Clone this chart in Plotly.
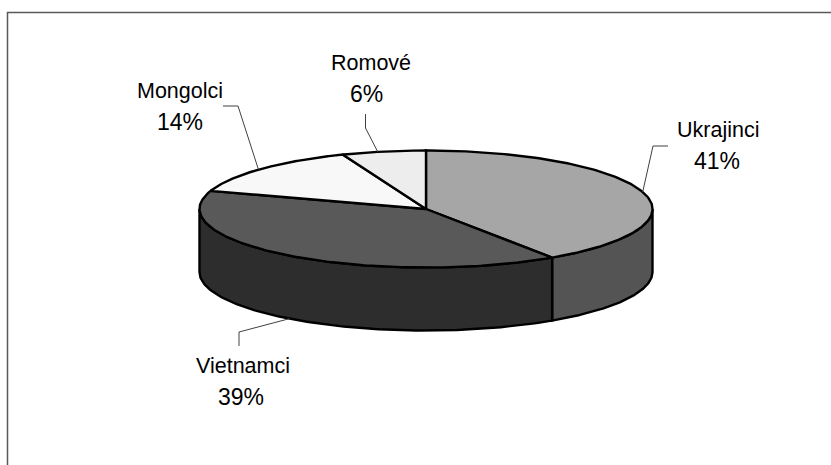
import numpy as np
import plotly.graph_objects as go

categories = ["Ukrajinci", "Vietnamci", "Mongolci", "Romové"]
values = [40.6, 39.4, 14, 6]
top_colors = ["#A6A6A6", "#595959", "#F8F8F8", "#EDEDED"]
side_colors = ["#545454", "#2D2D2D", "#F8F8F8", "#EDEDED"]

# pie projection in page pixels
CX, CY, RX, RY, DEPTH = 426, 209, 226.5, 58.5, 63
W, H = 831, 465


def px(a):
    return CX + RX * np.sin(np.radians(a))


def py(a):
    return CY - RY * np.cos(np.radians(a))


fractions = np.array(values) / sum(values) * 360
ends = np.cumsum(fractions)
starts = ends - fractions
mids = (starts + ends) / 2

fig = go.Figure()


def poly(x, y, color):
    fig.add_trace(go.Scatter(
        x=x, y=y, mode="lines", fill="toself", fillcolor=color,
        line=dict(color="#000000", width=2.4), hoverinfo="skip", showlegend=False))


# side walls (only the front half of the rim is visible)
for s, e, c in zip(starts, ends, side_colors):
    lo, hi = max(s, 90), min(e, 270)
    if hi > lo:
        t = np.linspace(lo, hi, 120)
        x = np.r_[px(t), px(t[::-1]), px(t[0])]
        y = np.r_[py(t), py(t[::-1]) + DEPTH, py(t[0])]
        poly(x, y, c)

# top faces
for s, e, c in zip(starts, ends, top_colors):
    t = np.linspace(s, e, 160)
    poly(np.r_[CX, px(t), CX], np.r_[CY, py(t), CY], c)

# leader lines: label-side start, elbow, then the slice's rim point
elbows = {
    "Ukrajinci": [(668, 146), (653, 146)],
    "Vietnamci": [(239, 346), (239, 332)],
    "Mongolci": [(223, 106), (238, 106)],
    "Romové": [(365.5, 114), (365.5, 128)],
}
rim_offset_deg = {"Ukrajinci": 0, "Vietnamci": 0, "Mongolci": -0.9, "Romové": -1.5}
for name, m in zip(categories, mids):
    pts = elbows[name]
    a = m + rim_offset_deg[name]
    ex, ey = px(a), py(a) + (DEPTH if 90 < a < 270 else 0)
    fig.add_trace(go.Scatter(
        x=[p[0] for p in pts] + [ex], y=[p[1] for p in pts] + [ey],
        mode="lines", line=dict(color="#404040", width=1),
        hoverinfo="skip", showlegend=False))

# (name x, name y, percent x)
label_pos = {
    "Ukrajinci": (718, 130, 717),
    "Vietnamci": (243, 366, 241),
    "Mongolci": (180, 91, 180),
    "Romové": (371, 63, 366.5),
}
annotations = []
for name, v in zip(categories, values):
    lx, ly, vx = label_pos[name]
    annotations.append(dict(x=lx, y=ly, text=name, showarrow=False, xref="x", yref="y",
                            font=dict(family="Liberation Sans", size=21.5, color="#000000")))
    annotations.append(dict(x=vx, y=ly + 30.5, text=f"{round(v)}%", showarrow=False, xref="x", yref="y",
                            font=dict(family="Liberation Sans", size=23, color="#000000")))

frame = dict(type="line", xref="x", yref="y", line=dict(color="#5A5A5A", width=1.5))
fig.update_layout(
    width=W, height=H, margin=dict(l=0, r=0, t=0, b=0),
    paper_bgcolor="white", plot_bgcolor="white", showlegend=False,
    xaxis=dict(range=[0, W], visible=False, fixedrange=True),
    yaxis=dict(range=[H, 0], visible=False, fixedrange=True),
    annotations=annotations,
    shapes=[dict(frame, x0=7, x1=W, y0=12.5, y1=12.5), dict(frame, x0=7.5, x1=7.5, y0=12, y1=H)],
)
fig.write_html("out.html", config=dict(displayModeBar=False),
               post_script="document.body.style.margin='0';")
